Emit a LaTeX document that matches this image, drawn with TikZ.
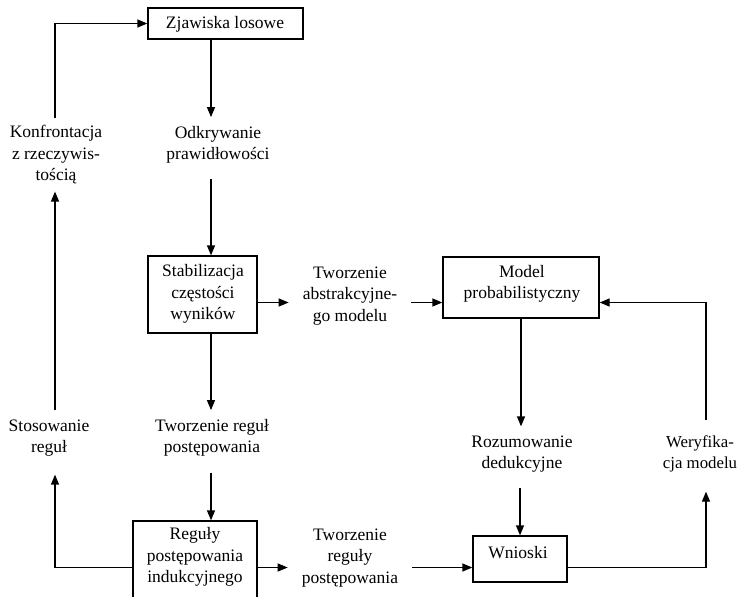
\documentclass[tikz,border=0pt]{standalone}
\usepackage{fontspec}
\setmainfont{Liberation Serif}
\usetikzlibrary{arrows.meta}
\begin{document}
\begin{tikzpicture}[x=1pt,y=-1pt,
  box/.style={draw, line width=1.3pt, inner sep=0pt},
  txt/.style={align=center, inner xsep=14pt, inner ysep=9pt, font=\fontsize{17.5}{21.5}\selectfont},
  lbl/.style={align=center, inner sep=0pt, font=\fontsize{17.5}{21.5}\selectfont},
  arr/.style={line width=1.3pt, -{Triangle[length=10pt,width=8pt]}}]
\useasboundingbox (0,0) rectangle (739,597);
\clip (0,0) rectangle (739,597);

% boxes
\node[box, minimum width=155pt, minimum height=31pt] (zj) at (225.5,23.5) {};
\node[box, minimum width=109pt, minimum height=77pt] (stab) at (202.5,294.5) {};
\node[box, minimum width=156pt, minimum height=61pt] (model) at (521,287.5) {};
\node[box, minimum width=124pt, minimum height=84pt] (regu) at (195,563) {};
\node[box, minimum width=94pt, minimum height=46pt] (wn) at (520,559) {};

% box texts
\node[lbl] (zjt) at (225,24) {Zjawiska losowe};
\node[lbl] (stabt) at (203,294) {Stabilizacja\\częstości\\wyników};
\node[lbl] (modelt) at (522,284) {Model\\probabilistyczny};
\node[lbl] (regut) at (195,557) {Reguły\\postępowania\\indukcyjnego};
\node[lbl] (wnt) at (518,553) {Wnioski};

% free texts
\node[txt] (odk) at (218,145) {Odkrywanie\\prawidłowości};
\node[txt, inner ysep=7pt] (konf) at (56,155) {Konfrontacja\\z rzeczywis-\\tością};
\node[txt] (tabs) at (350,296) {Tworzenie\\abstrakcyjne-\\go modelu};
\node[txt] (trp) at (212,438) {Tworzenie reguł\\postępowania};
\node[txt] (stos) at (49,438) {Stosowanie\\reguł};
\node[txt] (roz) at (522,454) {Rozumowanie\\dedukcyjne};
\node[txt, inner xsep=1pt, font=\fontsize{16.8}{21.5}\selectfont] (wer) at (700,454) {Weryfika-\\cja modelu};
\node[txt] (trp2) at (350,558) {Tworzenie\\reguły\\postępowania};

\coordinate (colA) at (211,0);
\coordinate (colL) at (55,0);
\coordinate (colR) at (706,0);
\coordinate (rowB) at (0,302.5);
\coordinate (rowC) at (0,567.5);

% connectors
\draw[arr] (zj.south -| colA) -- (odk.north -| colA);
\draw[arr, shorten <=6pt] (odk.south -| colA) -- (stab.north -| colA);
\draw[arr] (stab.south -| colA) -- (trp.north -| colA);
\draw[arr, shorten <=7pt] (trp.south -| colA) -- (regu.north -| colA);
\draw[arr] (stab.east |- rowB) -- (tabs.west |- rowB);
\draw[arr] (tabs.east |- rowB) -- (model.west |- rowB);
\draw[arr] (model.south) -- (roz.north -| model.south);
\draw[arr, shorten <=6pt] (roz.south -| wn.north) -- (wn.north);
\draw[arr, shorten <=6pt] (wer.north -| colR) |- (model.east |- rowB);
\draw[arr, shorten >=10pt] (wn.east |- rowC) -| (wer.south -| colR);
\draw[arr] (regu.east |- rowC) -- (trp2.west |- rowC);
\draw[arr] (trp2.east |- rowC) -- (wn.west |- rowC);
\draw[arr, shorten >=9pt] (regu.west |- rowC) -| (stos.south -| colL);
\draw[arr] (stos.north -| colL) -- (konf.south -| colL);
\draw[arr] (konf.north -| colL) |- (zj.west);
\end{tikzpicture}
\end{document}
